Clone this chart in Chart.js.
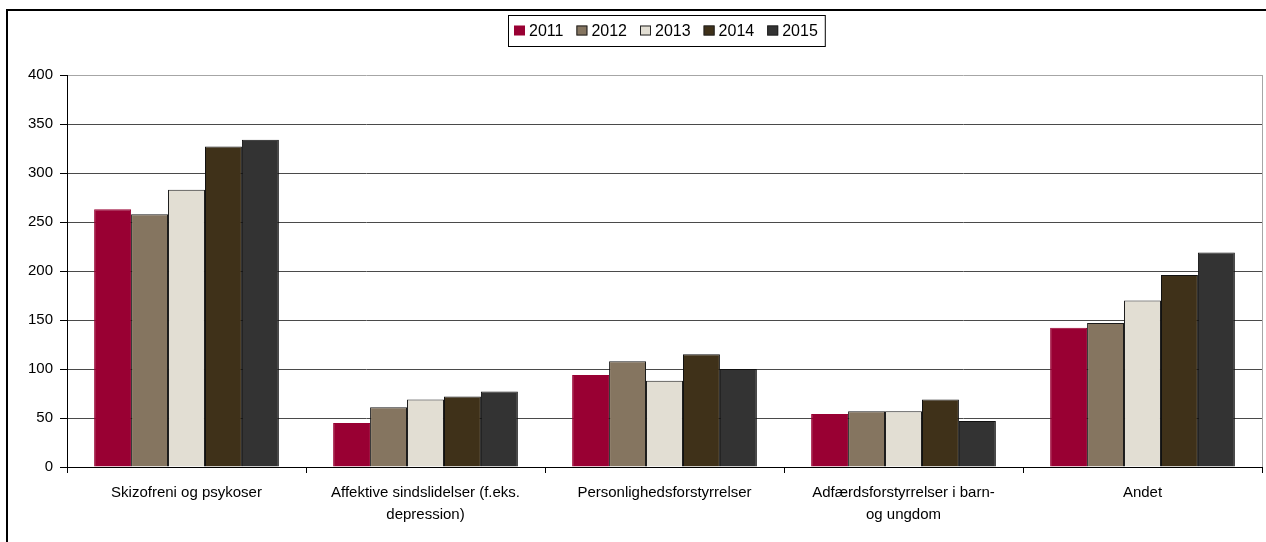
<!DOCTYPE html>
<html>
<head>
<meta charset="utf-8">
<script src="https://cdn.jsdelivr.net/npm/chart.js@4/dist/chart.umd.min.js"></script>
<style>
html,body{margin:0;padding:0;background:#fff;}
#wrap{position:relative;width:1266px;height:542px;overflow:hidden;}
canvas{display:block;}
</style>
</head>
<body>
<div id="wrap"><canvas id="c" width="1266" height="542"></canvas></div>
<script>
const categories = [
  "Skizofreni og psykoser",
  ["Affektive sindslidelser (f.eks.", "depression)"],
  "Personlighedsforstyrrelser",
  ["Adfærdsforstyrrelser i barn-", "og ungdom"],
  "Andet"
];
const years = ["2011", "2012", "2013", "2014", "2015"];
const values2011 = [263, 45, 94, 54, 142];
const values2012 = [258, 61, 108, 57, 147];
const values2013 = [283, 69, 88, 57, 170];
const values2014 = [327, 72, 115, 69, 196];
const values2015 = [334, 77, 100, 47, 219];
const yTicks = [0, 50, 100, 150, 200, 250, 300, 350, 400];

const fills = ["#990033", "#857560", "#e2ded3", "#3f3119", "#333333"];
const edges = ["#990033", "#1a1a1a", "#1a1a1a", "#111111", "#111111"];
const seriesValues = [values2011, values2012, values2013, values2014, values2015];

const FONT = "'Liberation Sans', Arial, Helvetica, sans-serif";
Chart.defaults.font.family = FONT;
Chart.defaults.color = "#000";

const decor = {
  id: "decor",
  afterDraw(chart) {
    const ctx = chart.ctx;
    const a = chart.chartArea;
    ctx.save();
    // right plot border (light gray)
    ctx.strokeStyle = "#a6a6a6";
    ctx.lineWidth = 1;
    ctx.beginPath();
    ctx.moveTo(Math.round(a.right) + 0.5, a.top);
    ctx.lineTo(Math.round(a.right) + 0.5, a.bottom);
    ctx.stroke();
    // outer frame
    ctx.strokeStyle = "#000";
    ctx.lineWidth = 2;
    ctx.beginPath();
    ctx.moveTo(7, 600);
    ctx.lineTo(7, 10);
    ctx.lineTo(1300, 10);
    ctx.stroke();
    // legend
    ctx.font = "16px " + FONT;
    ctx.textBaseline = "middle";
    ctx.textAlign = "left";
    const box = 11, gapText = 4, gapItem = 13;
    const ds = chart.data.datasets;
    let total = 0;
    const widths = ds.map(d => ctx.measureText(d.label).width);
    widths.forEach((w, i) => { total += box + gapText + w + (i < ds.length - 1 ? gapItem : 0); });
    const cx = 666, cy = 30.5;
    let x = Math.round(cx - total / 2);
    const x0 = x;
    ds.forEach((d, i) => {
      ctx.fillStyle = d.backgroundColor;
      ctx.fillRect(x, cy - 5, box, 10);
      if (i > 0) {
        ctx.strokeStyle = "#222";
        ctx.lineWidth = 1;
        ctx.strokeRect(x + 0.5, cy - 5 + 0.5, box - 1, 9);
      }
      ctx.fillStyle = "#000";
      ctx.fillText(d.label, x + box + gapText, cy + 1);
      x += box + gapText + widths[i] + gapItem;
    });
    const x1 = x - gapItem;
    ctx.strokeStyle = "#000";
    ctx.lineWidth = 1;
    ctx.strokeRect(x0 - 6 + 0.5, 15.5, (x1 + 7) - (x0 - 6), 31);
    ctx.restore();
  }
};

new Chart(document.getElementById("c"), {
  type: "bar",
  data: {
    labels: categories,
    datasets: years.map((y, i) => ({
      label: y,
      data: seriesValues[i],
      backgroundColor: fills[i],
      borderColor: edges[i],
      borderWidth: 1,
      categoryPercentage: 0.773,
      barPercentage: 1.0
    }))
  },
  options: {
    responsive: false,
    animation: false,
    layout: { padding: { top: 75, right: 4, left: 0, bottom: 0 } },
    plugins: {
      legend: { display: false },
      tooltip: { enabled: false },
      title: { display: false }
    },
    scales: {
      x: {
        offset: true,
        grid: {
          display: true,
          drawOnChartArea: false,
          drawTicks: true,
          tickLength: 6,
          color: "#000",
          offset: true
        },
        border: { display: true, color: "#000", width: 1 },
        ticks: {
          font: { size: 15, lineHeight: 1.45 },
          color: "#000",
          padding: 9,
          maxRotation: 0,
          autoSkip: false
        },
        afterFit(scale) { scale.height = 75; }
      },
      y: {
        min: 0,
        max: 400,
        afterBuildTicks(scale) { scale.ticks = yTicks.map(v => ({ value: v })); },
        grid: {
          color: (c) => (c.tick && c.tick.value === 400 ? "#a6a6a6" : "#4a4a4a"),
          lineWidth: 1,
          tickLength: 7,
          drawTicks: true,
          tickColor: "#000"
        },
        border: { display: true, color: "#000", width: 1 },
        ticks: {
          font: { size: 15 },
          color: "#000",
          padding: 7
        },
        afterFit(scale) { scale.width = 67; }
      }
    }
  },
  plugins: [decor]
});
</script>
</body>
</html>
